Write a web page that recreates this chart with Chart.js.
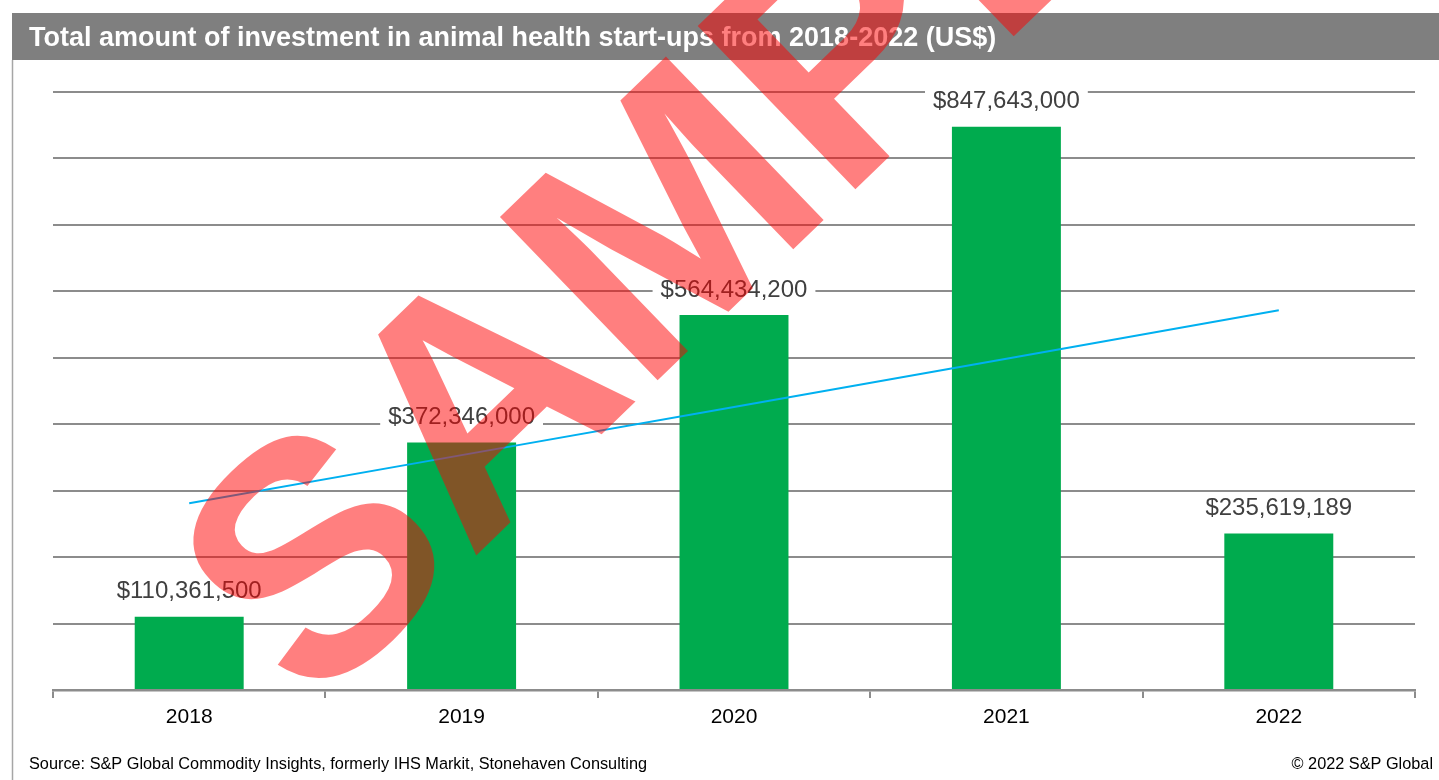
<!DOCTYPE html>
<html>
<head>
<meta charset="utf-8">
<script src="https://cdn.jsdelivr.net/npm/chart.js@4"></script>
<style>
  body { margin: 0; background: #fff; }
  #wrap { width: 1439px; height: 780px; position: relative; }
</style>
</head>
<body>
<div id="wrap"><canvas id="invest-chart"></canvas></div>
<script>
// data
const years = ["2018", "2019", "2020", "2021", "2022"];
const investment = [110361500, 372346000, 564434200, 847643000, 235619189];
// linear trend line, read at each year
const trend = [281000000, 353500000, 426000000, 498700000, 571500000];
const yTicks = [0, 100000000, 200000000, 300000000, 400000000, 500000000, 600000000, 700000000, 800000000, 900000000];

const titleText = "Total amount of investment in animal health start-ups from 2018-2022 (US$)";
const sourceText = "Source: S&P Global Commodity Insights, formerly IHS Markit, Stonehaven Consulting";
const copyText = "\u00A9 2022 S&P Global";

const FONT = '"Liberation Sans", Arial, sans-serif';

function money(v) {
  return "$" + v.toLocaleString("en-US");
}

// title bar, footer, bar labels and the watermark
const decor = {
  id: 'decor',
  beforeDraw(chart) {
    const ctx = chart.ctx;
    ctx.save();
    ctx.fillStyle = '#fff';
    ctx.fillRect(0, 0, chart.width, chart.height);
    ctx.fillStyle = '#7f7f7f';
    ctx.fillRect(12, 13, chart.width - 12, 47);
    ctx.strokeStyle = '#a6a6a6';
    ctx.lineWidth = 1.5;
    ctx.beginPath();
    ctx.moveTo(12.5, 60);
    ctx.lineTo(12.5, chart.height);
    ctx.stroke();
    ctx.fillStyle = '#fff';
    ctx.font = 'bold 27px ' + FONT;
    ctx.textBaseline = 'alphabetic';
    ctx.fillText(titleText, 29, 46);
    ctx.fillStyle = '#000';
    ctx.font = '16.3px ' + FONT;
    ctx.fillText(sourceText, 29, 769);
    ctx.textAlign = 'right';
    ctx.fillText(copyText, 1433, 769);
    ctx.restore();
  },
  afterDatasetsDraw(chart) {
    const ctx = chart.ctx;
    const meta = chart.getDatasetMeta(1);
    ctx.save();
    ctx.font = '24px ' + FONT;
    ctx.textAlign = 'center';
    ctx.textBaseline = 'middle';
    meta.data.forEach((bar, i) => {
      const txt = money(investment[i]);
      const w = ctx.measureText(txt).width + 16;
      const y = bar.y - 26;
      ctx.fillStyle = '#fff';
      ctx.fillRect(bar.x - w / 2, y - 15, w, 30);
      ctx.fillStyle = '#404040';
      ctx.fillText(txt, bar.x, y + 1);
    });
    ctx.restore();
  },
  afterDraw(chart) {
    const ctx = chart.ctx;
    ctx.save();
    ctx.translate(312, 714);
    ctx.rotate(-44 * Math.PI / 180);
    ctx.fillStyle = 'rgba(255, 0, 0, 0.5)';
    ctx.font = 'bold 330px ' + FONT;
    ctx.textBaseline = 'alphabetic';
    ctx.fillText("SAMPLE", 0, 0);
    ctx.restore();
  }
};

const investData = {
  labels: years,
  datasets: [{
    type: 'line',
    data: trend,
    borderColor: '#00b0f0',
    borderWidth: 2,
    pointRadius: 0,
    fill: false,
    order: 0
  }, {
    type: 'bar',
    data: investment,
    backgroundColor: '#00ab4e',
    borderWidth: 0,
    barPercentage: 0.4,
    categoryPercentage: 1,
    order: 1
  }]
};

const investOptions = {
  responsive: true,
  maintainAspectRatio: false,
  animation: { duration: 0 },
  layout: {
    padding: { left: 53, right: 24, top: 92, bottom: 0 }
  },
  scales: {
    x: {
      afterFit(scale) { scale.height = 90; },
      grid: {
        offset: true,
        drawOnChartArea: false,
        drawTicks: true,
        tickLength: 8,
        color: '#8c8c8c',
        lineWidth: 2
      },
      border: { color: '#8c8c8c', width: 2.5 },
      ticks: {
        color: '#000',
        padding: 7,
        font: { family: FONT, size: 21 }
      }
    },
    y: {
      min: 0,
      max: 900000000,
      afterBuildTicks(scale) {
        scale.ticks = yTicks.map(v => ({ value: v }));
      },
      afterFit(scale) { scale.width = 0; },
      ticks: { display: false },
      grid: {
        drawTicks: false,
        color: '#8c8c8c',
        lineWidth: 2
      },
      border: { display: false }
    }
  },
  plugins: {
    legend: { display: false },
    tooltip: { enabled: false }
  }
};

const investCanvas = document.getElementById('invest-chart');
let investChart = new Chart(investCanvas, {
  data: investData,
  options: investOptions,
  plugins: [decor]
});
</script>
</body>
</html>
